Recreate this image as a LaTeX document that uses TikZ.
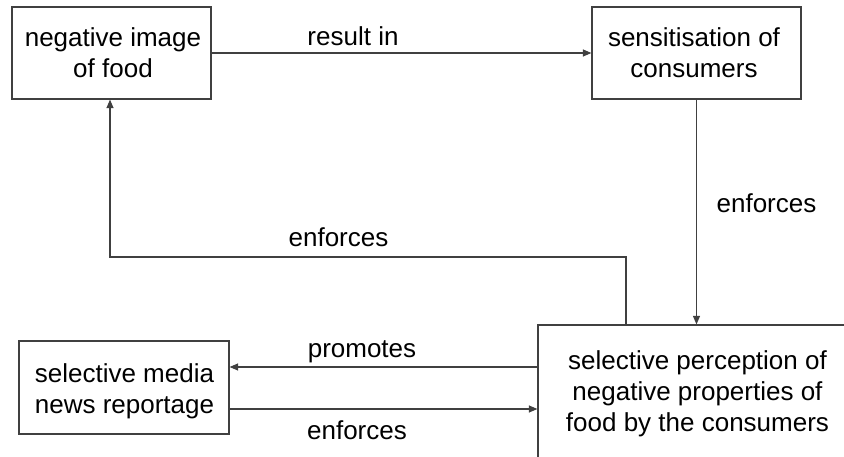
\documentclass[tikz,border=0pt]{standalone}
\usepackage{fontspec}
\setmainfont{Liberation Sans}
\usetikzlibrary{arrows.meta}
\definecolor{linegray}{RGB}{64,64,64}
\tikzset{
  box/.style={draw=linegray, line width=1.2pt, rectangle, inner sep=0pt},
  boxtext/.style={align=center, inner sep=0pt, text=black,
    font=\fontsize{26}{31}\selectfont},
  lbl/.style={anchor=base, inner sep=0pt, text=black,
    font=\fontsize{26}{31}\selectfont},
  arrow/.style={draw=linegray, line width=1.1pt,
    -{Triangle[length=8.5pt,width=7pt]}},
  plain/.style={draw=linegray, line width=1.1pt}
}
\begin{document}
\begin{tikzpicture}[x=1pt, y=-1pt]
\useasboundingbox (0,0) rectangle (844,457);
\begin{scope}
\clip (0,0) rectangle (844,457);

% boxes
\node[box, minimum width=199pt, minimum height=92pt] (food) at (111.5,53) {};
\node[box, minimum width=209pt, minimum height=92pt] (sens) at (696.5,53) {};
\node[box, minimum width=310pt, minimum height=145pt] (perc) at (693,397.5) {};
\node[box, minimum width=210pt, minimum height=93pt] (media) at (124,387.5) {};

% box texts
\node[boxtext] (foodtxt) at (113,56) {\strut negative image\\\strut of food};
\node[boxtext] (senstxt) at (694,56.3) {\strut sensitisation of\\\strut consumers};
\node[boxtext] (perctxt) at (697.5,394.3) {\strut selective perception of\\\strut negative properties of\\\strut food by the consumers};
\node[boxtext] (mediatxt) at (124.5,391.3) {\strut selective media\\\strut news reportage};

% routing points of the feedback loop
\coordinate (loopR) at (626,257);
\coordinate (loopL) at (110,257);
\coordinate (promY) at (0,367);
\coordinate (enfY) at (0,409);

% connectors
\draw[arrow] (food.east) -- (sens.west);
\draw[arrow] (sens.south) -- (sens.south |- perc.north);
\draw[arrow] (perc.north -| loopR) -- (loopR) -- (loopL) -- (loopL |- food.south);
\draw[arrow] (perc.west |- promY) -- (media.east |- promY);
\draw[arrow] (media.east |- enfY) -- (perc.west |- enfY);

% connector labels
\node[lbl] (lresult) at (353,46) {result in};
\node[lbl] (lenfR) at (766.5,213) {enforces};
\node[lbl] (lenfM) at (338.5,247) {enforces};
\node[lbl] (lprom) at (362,357) {promotes};
\node[lbl] (lenfB) at (357,439) {enforces};
\end{scope}
\end{tikzpicture}
\end{document}
